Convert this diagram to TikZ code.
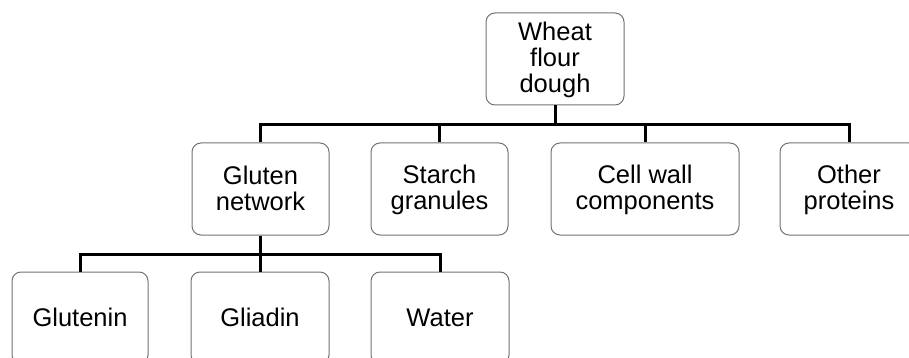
\documentclass[tikz,border=0pt]{standalone}
\usepackage{fontspec}
\setmainfont{Liberation Sans}
% line strut: fixed height and depth so every label sits on the same baselines
\newcommand{\lnstrut}{\rule[-5pt]{0pt}{26pt}}
\begin{document}
\begin{tikzpicture}[x=1pt,y=1pt,
  box/.style={draw=black!55, line width=1pt, fill=white, rounded corners=9pt,
    minimum height=92pt, inner sep=0pt, align=center,
    font=\fontsize{25.5}{26}\selectfont},
  link/.style={draw=black, line width=3pt}]
\useasboundingbox (0,0) rectangle (909,-358);

% root
\node[box, minimum width=138pt] (root) at (555,-59)
  {\lnstrut Wheat\\\lnstrut flour\\\lnstrut dough};

% second level
\node[box, minimum width=137pt] (gluten) at (260.5,-189) {\lnstrut Gluten\\\lnstrut network};
\node[box, minimum width=137pt] (starch) at (439.5,-189) {\lnstrut Starch\\\lnstrut granules};
\node[box, minimum width=188pt] (cell)   at (645,-189)   {\lnstrut Cell wall\\\lnstrut components};
\node[box, minimum width=138pt] (other)  at (849,-189)   {\lnstrut Other\\\lnstrut proteins};

% third level
\node[box, minimum width=136pt] (glutenin) at (80,-318)  {\lnstrut Glutenin};
\node[box, minimum width=138pt] (gliadin)  at (260,-318) {\lnstrut Gliadin};
\node[box, minimum width=138pt] (water)    at (440,-318) {\lnstrut Water};

% connectors
\foreach \c in {gluten,starch,cell,other}
  \draw[link] (root.south) -- ++(0,-19.5) -| (\c.north);
\foreach \c in {glutenin,gliadin,water}
  \draw[link] (gluten.south) -- ++(0,-18.5) -| (\c.north);
\end{tikzpicture}
\end{document}
